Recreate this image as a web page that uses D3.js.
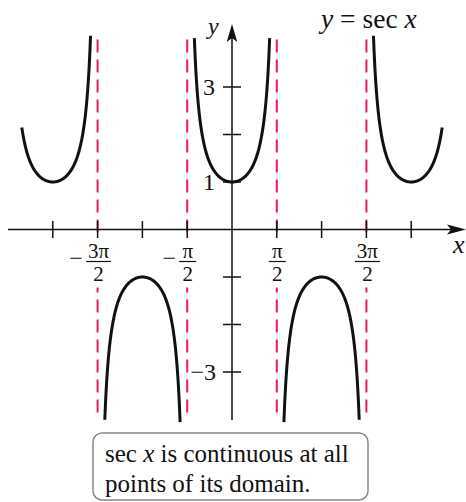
<!DOCTYPE html>
<html lang="en">
<head>
<meta charset="UTF-8">
<script src="https://d3js.org/d3.v7.min.js"></script>
<style>
  body { margin: 0; background: #fff; }
  text { font-family: 'Liberation Serif', 'Times New Roman', serif; fill: #111; }
  .it { font-style: italic; }
</style>
</head>
<body>
<svg width="466" height="502"></svg>
<script>
  // tick positions in multiples of pi/2
  const xTickMults = [-4, -3, -2, -1, 1, 2, 3, 4];
  const xLabelMults = [-3, -1, 1, 3];
  const asymptoteMults = [-3, -1, 1, 3];
  const yTicks = [-3, -2, -1, 1, 2, 3];
  const yLabels = [3, 1, -3];
  // branches of y = sec x, interval ends in radians
  const branches = [[-7.37, -4.96], [-4.46, -1.82], [-1.32, 1.32], [1.82, 4.46], [4.96, 7.37]];
  const caption = ["sec x is continuous at all", "points of its domain."];

  const H = Math.PI / 2;
  const svg = d3.select("svg");
  const x = d3.scaleLinear().domain([-4 * H, 4 * H]).range([52.8, 411.2]);
  const y = d3.scaleLinear().domain([-4, 4]).range([419.5, 39.5]);

  // asymptotes
  svg.selectAll("line.asym").data(asymptoteMults).enter().append("line")
      .attr("x1", d => x(d * H)).attr("x2", d => x(d * H))
      .attr("y1", y(4)).attr("y2", y(-4))
      .attr("stroke", "#ec1c5a").attr("stroke-width", 2)
      .attr("stroke-dasharray", "13,7");

  // white knockout behind the fraction labels
  svg.selectAll("rect.ko").data(xLabelMults).enter().append("rect")
      .attr("x", d => x(d * H) - 8).attr("width", 16)
      .attr("y", y(0) + 2).attr("height", 56).attr("fill", "#fff");

  // axes
  const axes = svg.append("g").attr("stroke", "#111").attr("stroke-width", 1.5);
  axes.append("line").attr("x1", 8).attr("x2", 455).attr("y1", y(0)).attr("y2", y(0));
  axes.append("line").attr("x1", x(0)).attr("x2", x(0)).attr("y1", 34).attr("y2", 420);
  svg.append("path").attr("fill", "#111")
      .attr("d", `M466,${y(0)} L447,${y(0) - 5} L451,${y(0)} L447,${y(0) + 5} Z`);
  svg.append("path").attr("fill", "#111")
      .attr("d", `M${x(0)},24 L${x(0) - 5.3},42 L${x(0)},38 L${x(0) + 5.3},42 Z`);

  axes.selectAll("line.xt").data(xTickMults).enter().append("line")
      .attr("x1", d => x(d * H)).attr("x2", d => x(d * H))
      .attr("y1", y(0) - 8.5).attr("y2", y(0) + 8.5);
  axes.selectAll("line.yt").data(yTicks).enter().append("line")
      .attr("x1", x(0) - 9).attr("x2", x(0) + 9)
      .attr("y1", d => y(d)).attr("y2", d => y(d));

  // curve
  const line = d3.line().x(d => x(d[0])).y(d => y(d[1]));
  branches.forEach(([a, b]) => {
    const pts = d3.range(a, b + 1e-9, (b - a) / 200).map(t => [t, 1 / Math.cos(t)]);
    svg.append("path").datum(pts).attr("d", line)
        .attr("fill", "none").attr("stroke", "#111").attr("stroke-width", 3);
  });

  // x tick labels as stacked fractions
  const xl = svg.selectAll("g.xl").data(xLabelMults).enter().append("g")
      .attr("transform", d => `translate(${x(d * H) + (Math.abs(d) === 1 ? 0.5 : 1)},0)`);
  xl.append("line").attr("x1", d => Math.abs(d) === 1 ? -8.5 : -12.5)
      .attr("x2", d => Math.abs(d) === 1 ? 8.5 : 12.5)
      .attr("y1", 261.5).attr("y2", 261.5).attr("stroke", "#111").attr("stroke-width", 1.2);
  xl.filter(d => d < 0).append("text")
      .attr("x", d => Math.abs(d) === 1 ? -18.5 : -22.5).attr("y", 266)
      .attr("text-anchor", "middle").style("font-size", "24px").text("\u2212");
  xl.append("text").attr("x", 0).attr("y", 257.5).attr("text-anchor", "middle")
      .style("font-size", "21px")
      .text(d => Math.abs(d) === 1 ? "\u03c0" : Math.abs(d) + "\u03c0");
  xl.append("text").attr("x", 0).attr("y", 281).attr("text-anchor", "middle")
      .style("font-size", "21px").text("2");

  // y labels
  svg.selectAll("text.yl").data(yLabels).enter().append("text")
      .attr("x", d => d < 0 ? x(0) - 16 : x(0) - 17)
      .attr("y", d => y(d) + 8).attr("text-anchor", "end")
      .style("font-size", "24px").text(d => d < 0 ? "\u2212" + Math.abs(d) : d);

  svg.append("text").attr("class", "it").attr("x", 208).attr("y", 34)
      .style("font-size", "24px").text("y");
  svg.append("text").attr("class", "it").attr("x", 453).attr("y", 253)
      .style("font-size", "26px").text("x");

  // title
  const title = svg.append("text").attr("x", 321).attr("y", 28).style("font-size", "27.5px");
  title.append("tspan").attr("class", "it").text("y");
  title.append("tspan").text(" = sec ");
  title.append("tspan").attr("class", "it").text("x");

  // caption box
  svg.append("rect").attr("x", 93).attr("y", 433).attr("width", 275).attr("height", 67)
      .attr("rx", 9).attr("fill", "#fff").attr("stroke", "#888").attr("stroke-width", 1.5);
  const c1 = svg.append("text").attr("x", 105).attr("y", 462).style("font-size", "25px");
  c1.append("tspan").text("sec ");
  c1.append("tspan").attr("class", "it").text("x");
  c1.append("tspan").text(caption[0].slice(5));
  svg.append("text").attr("x", 105).attr("y", 492).style("font-size", "25px").text(caption[1]);
</script>
</body>
</html>
